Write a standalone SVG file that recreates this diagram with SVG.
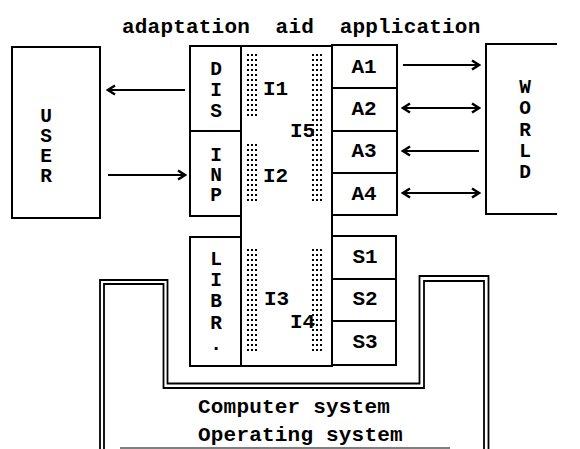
<svg xmlns="http://www.w3.org/2000/svg" width="580" height="449" viewBox="0 0 580 449">
<style>
text{font-family:"Liberation Mono","Courier New",monospace;font-weight:bold;font-size:21px;fill:#000;white-space:pre}
.c{text-anchor:middle}
.v{font-size:19.5px}
.box{fill:none;stroke:#000;stroke-width:2}
.dbl{fill:none;stroke:#000;stroke-width:1.8}
.conn{fill:none;stroke:#000;stroke-width:2}
</style>
<defs>
<pattern id="dotsL" patternUnits="userSpaceOnUse" x="247" y="54" width="4" height="5">
<rect x="0" y="0" width="2" height="2" fill="#000"/>
</pattern>
<pattern id="dotsR" patternUnits="userSpaceOnUse" x="312" y="54" width="4" height="5">
<rect x="0" y="0" width="2" height="2" fill="#000"/>
</pattern>
<marker id="arr" markerUnits="userSpaceOnUse" viewBox="0 0 10 12" refX="8" refY="6" markerWidth="10" markerHeight="12" orient="auto-start-reverse">
<path d="M1,1.5 L8,6 L1,10.5" fill="none" stroke="#000" stroke-width="2.4"/>
</marker>
</defs>
<rect width="580" height="449" fill="#fff"/>

<g id="title"><text x="122" y="33" xml:space="preserve" letter-spacing="0.2">adaptation  aid  application</text></g>

<g id="computer-system">
<path class="dbl" d="M100,449 V280 H167.5 V383.5 H419.5 V276 H488.5 V449"/>
<path class="dbl" d="M104,449 V284 H163.5 V388 H424 V281 H484 V449"/>
<line x1="120" y1="448" x2="450" y2="448" stroke="#555" stroke-width="1.5"/>
<text x="198" y="413" letter-spacing="0.2">Computer system</text>
<text x="198" y="441" letter-spacing="0.2">Operating system</text>
</g>

<g id="user">
<rect class="box" x="12" y="47" width="88" height="171"/>
<text class="c v" x="46" y="122">U</text>
<text class="c v" x="46" y="142">S</text>
<text class="c v" x="46" y="162">E</text>
<text class="c v" x="46" y="182">R</text>
</g>

<g id="interface">
<rect class="box" x="241" y="46" width="91" height="320"/>
<rect fill="url(#dotsL)" x="247" y="54" width="12" height="64"/>
<rect fill="url(#dotsL)" x="247" y="144" width="12" height="60"/>
<rect fill="url(#dotsL)" x="247" y="249" width="12" height="104"/>
<rect fill="url(#dotsR)" x="312" y="54" width="12" height="150"/>
<rect fill="url(#dotsR)" x="312" y="249" width="12" height="104"/>
<text x="263" y="95">I1</text>
<text x="263" y="182">I2</text>
<text x="264" y="305">I3</text>
<text x="290" y="328">I4</text>
<text x="290" y="137">I5</text>
</g>

<g id="dis">
<rect class="box" x="190" y="46" width="51" height="85"/>
<text class="c v" x="216" y="75">D</text>
<text class="c v" x="216" y="96">I</text>
<text class="c v" x="216" y="117">S</text>
</g>
<g id="inp">
<rect class="box" x="190" y="131" width="51" height="85"/>
<text class="c v" x="216" y="161">I</text>
<text class="c v" x="216" y="181">N</text>
<text class="c v" x="216" y="201">P</text>
</g>
<g id="libr">
<rect class="box" x="190" y="237" width="51" height="129"/>
<text class="c v" x="216" y="265">L</text>
<text class="c v" x="216" y="286">I</text>
<text class="c v" x="216" y="307">B</text>
<text class="c v" x="216" y="329">R</text>
<text class="c v" x="216" y="350">.</text>
</g>

<g id="a1"><rect class="box" x="332" y="45" width="65" height="43"/><text class="c" x="364" y="73">A1</text></g>
<g id="a2"><rect class="box" x="332" y="88" width="65" height="43"/><text class="c" x="364" y="115">A2</text></g>
<g id="a3"><rect class="box" x="332" y="131" width="65" height="42"/><text class="c" x="364" y="157">A3</text></g>
<g id="a4"><rect class="box" x="332" y="173" width="65" height="42"/><text class="c" x="364" y="200">A4</text></g>

<g id="s1"><rect class="box" x="332" y="236" width="64" height="43"/><text class="c" x="365" y="263">S1</text></g>
<g id="s2"><rect class="box" x="332" y="279" width="64" height="42"/><text class="c" x="365" y="305">S2</text></g>
<g id="s3"><rect class="box" x="332" y="321" width="64" height="44"/><text class="c" x="365" y="348">S3</text></g>

<g id="world">
<path class="box" d="M557,44 H486 V214 H557"/>
<text class="c v" x="525" y="93">W</text>
<text class="c v" x="525" y="114">O</text>
<text class="c v" x="525" y="136">R</text>
<text class="c v" x="525" y="157">L</text>
<text class="c v" x="525" y="178">D</text>
</g>

<g id="connectors">
<line class="conn" x1="185" y1="90" x2="108" y2="90" marker-end="url(#arr)"/>
<line class="conn" x1="108" y1="175" x2="185" y2="175" marker-end="url(#arr)"/>
<line class="conn" x1="403" y1="65" x2="479" y2="65" marker-end="url(#arr)"/>
<line class="conn" x1="403" y1="108" x2="479" y2="108" marker-start="url(#arr)" marker-end="url(#arr)"/>
<line class="conn" x1="479" y1="151" x2="403" y2="151" marker-end="url(#arr)"/>
<line class="conn" x1="403" y1="193" x2="479" y2="193" marker-start="url(#arr)" marker-end="url(#arr)"/>
</g>
</svg>
